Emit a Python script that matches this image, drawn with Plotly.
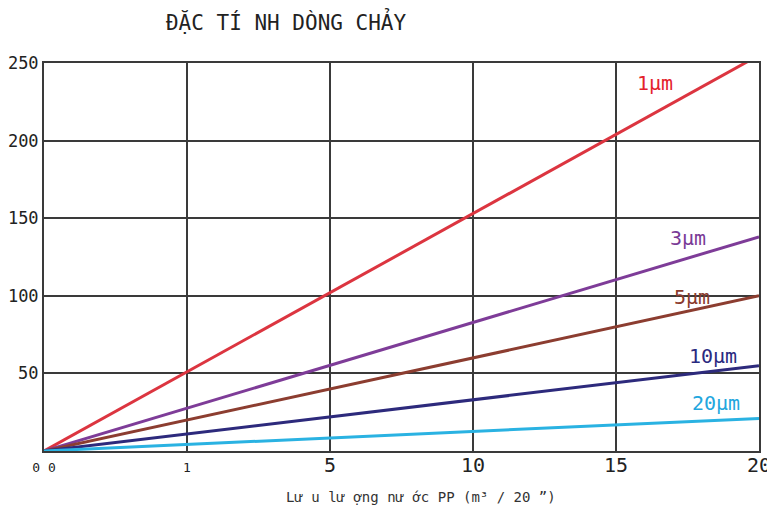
import plotly.graph_objects as go

# Data
x_labels = ["0 0", "1", "5", "10", "15", "20"]
x_index = [0, 1, 2, 3, 4, 5]
series_names = ["1µm", "3µm", "5µm", "10µm", "20µm"]
v_1um = [0, 51, 102, 153, 204, 255]
v_3um = [0, 27.6, 55.2, 82.8, 110.4, 138]
v_5um = [0, 20, 40, 60, 80, 100]
v_10um = [0, 11, 22, 33, 44, 55]
v_20um = [0, 4.2, 8.4, 12.6, 16.8, 21]
y_ticks = [50, 100, 150, 200, 250]

series_values = [v_1um, v_3um, v_5um, v_10um, v_20um]
line_colors = ["#dc3540", "#7e3c98", "#8c3d30", "#2d2a7c", "#2ab2e2"]
label_colors = ["#e4222c", "#7a3a96", "#8a3a2c", "#2a2a80", "#22a6de"]
label_pos = [(4.27, 237), (4.5, 137), (4.53, 99), (4.68, 61), (4.70, 31)]

MONO = "DejaVu Sans Mono"

fig = go.Figure()
for name, vals, col in zip(series_names, series_values, line_colors):
    fig.add_trace(go.Scatter(x=x_index, y=vals, mode="lines", name=name,
                             line=dict(color=col, width=3), showlegend=False))

for name, (lx, ly), col in zip(series_names, label_pos, label_colors):
    fig.add_annotation(x=lx, y=ly, xref="x", yref="y", text=name, showarrow=False,
                       font=dict(family=MONO, size=20, color=col),
                       xanchor="center", yanchor="middle")

tick_text = []
for t in x_labels:
    if t in ("0 0", "1"):
        tick_text.append('<span style="font-size:13px">' + t + '</span>')
    else:
        tick_text.append(t)

fig.update_layout(
    width=767, height=506,
    margin=dict(l=36, r=16, t=55, b=63, autoexpand=False),
    paper_bgcolor="white", plot_bgcolor="white",
    title=dict(text="ĐẶC TÍ NH DÒNG CHẢY", xref="container", yref="container",
               x=0.3625, y=0.972, xanchor="center", yanchor="middle",
               automargin=False,
               font=dict(family=MONO, size=21, color="#222222")),
    xaxis=dict(range=[0, 5], tickvals=x_index, ticktext=tick_text,
               showgrid=True, gridcolor="#3a3a3a", gridwidth=2,
               showline=True, linecolor="#3a3a3a", linewidth=2, mirror=True,
               zeroline=False, ticks="", automargin=False, ticklabelstandoff=-5,
               tickfont=dict(family=MONO, size=20, color="#222222")),
    yaxis=dict(range=[0, 250], tickvals=y_ticks,
               showgrid=True, gridcolor="#3a3a3a", gridwidth=2,
               showline=True, linecolor="#3a3a3a", linewidth=2, mirror=True,
               zeroline=False, ticks="", ticklabelstandoff=0, automargin=False,
               tickfont=dict(family=MONO, size=17, color="#222222")),
)

fig.add_annotation(x=0.527, y=-0.118, xref="paper", yref="paper",
                   text="Lư u lư ợng nư ớc PP (m³ / 20 ”)", showarrow=False,
                   xanchor="center", yanchor="middle",
                   font=dict(family=MONO, size=14, color="#333333"))

fig.write_html("out.html")
